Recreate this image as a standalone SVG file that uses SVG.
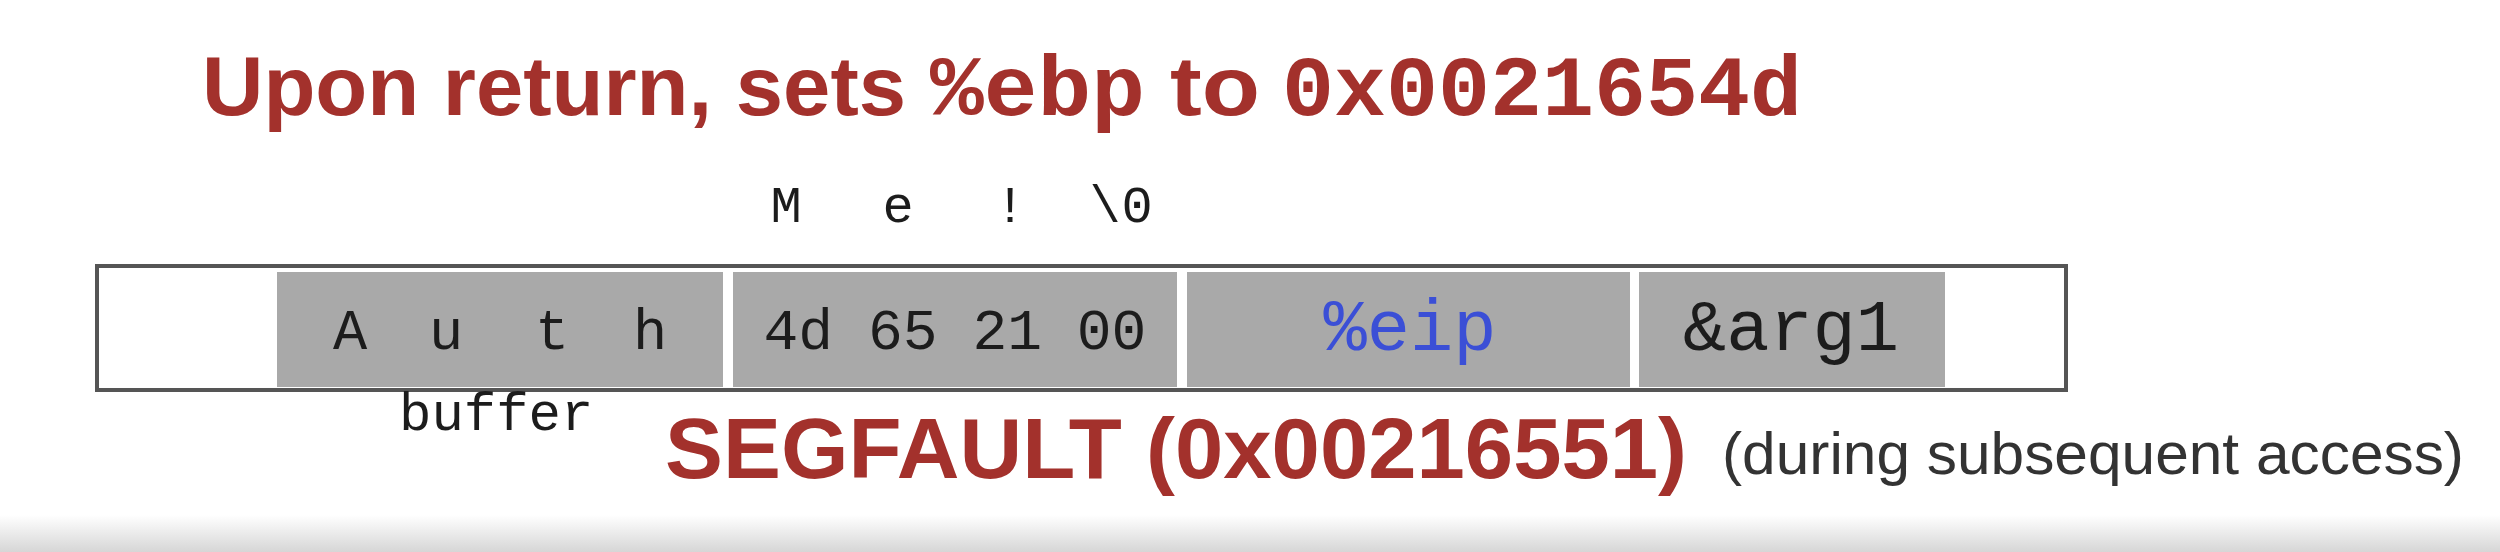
<svg xmlns="http://www.w3.org/2000/svg" width="2500" height="552" viewBox="0 0 2500 552">
<defs>
<linearGradient id="fade" x1="0" y1="0" x2="0" y2="1">
<stop offset="0" stop-color="#ffffff"/>
<stop offset="1" stop-color="#d6d6d6"/>
</linearGradient>
</defs>
<style>
.title{font-family:"Liberation Sans",Arial,sans-serif;font-weight:bold;font-size:84px;fill:#a3312c}
.tmono{font-family:"Liberation Mono","Courier New",monospace;font-weight:bold;font-size:86px;fill:#a3312c}
.cell{fill:#a9a9a9}
.mono{font-family:"Liberation Mono","Courier New",monospace;fill:#1c1c1c}
.seg{font-family:"Liberation Sans",Arial,sans-serif;font-weight:bold;font-size:86px;fill:#a3312c}
.note{font-family:"Liberation Sans",Arial,sans-serif;font-size:60px;fill:#333}
</style>
<rect x="0" y="0" width="2500" height="552" fill="#ffffff"/>
<rect x="0" y="515" width="2500" height="37" fill="url(#fade)"/>
<g id="title">
<text class="title" x="202" y="115" textLength="704" lengthAdjust="spacingAndGlyphs">Upon return, sets</text>
<text class="tmono" x="930" y="115" textLength="215" lengthAdjust="spacingAndGlyphs">%ebp</text>
<text class="title" x="1170" y="115" textLength="90" lengthAdjust="spacingAndGlyphs">to</text>
<text class="tmono" x="1282" y="115" textLength="520" lengthAdjust="spacingAndGlyphs">0x0021654d</text>
</g>
<g id="chars">
<text class="mono" font-size="52" y="222" text-anchor="middle" x="786 898 1010 1105 1137">Me!\0</text>
</g>
<g id="stack">
<rect x="97" y="266" width="1969" height="124" fill="#ffffff" stroke="#555555" stroke-width="4"/>
</g>
<g id="cell-buffer">
<rect class="cell" x="277" y="272" width="446" height="115"/>
<text class="mono" font-size="57" y="349" text-anchor="middle" x="350 446 552 650">Auth</text>
</g>
<g id="cell-ebp">
<rect class="cell" x="733" y="272" width="444" height="115"/>
<text class="mono" font-size="58" x="955" y="349" text-anchor="middle">4d 65 21 00</text>
</g>
<g id="cell-eip">
<rect class="cell" x="1187" y="272" width="443" height="115"/>
<text class="mono" font-size="72" x="1410" y="350" text-anchor="middle" style="fill:#3b4fd6">%eip</text>
</g>
<g id="cell-arg1">
<rect class="cell" x="1639" y="272" width="306" height="115"/>
<text class="mono" font-size="72" x="1791" y="350" text-anchor="middle">&amp;arg1</text>
</g>
<g id="labels">
<text class="mono" font-size="54" x="399" y="430">buffer</text>
<text class="seg" x="665" y="478" textLength="1022" lengthAdjust="spacingAndGlyphs">SEGFAULT (0x00216551)</text>
<text class="note" x="1722" y="474" textLength="742" lengthAdjust="spacingAndGlyphs">(during subsequent access)</text>
</g>
</svg>
